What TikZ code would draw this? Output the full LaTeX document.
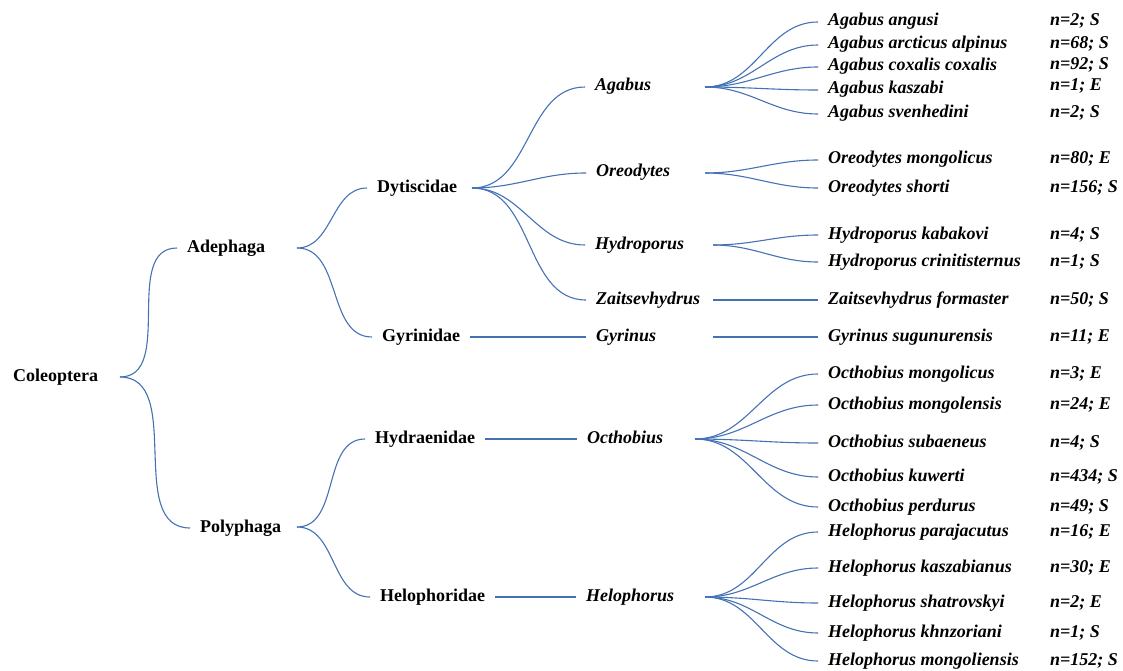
\documentclass[tikz,border=0pt]{standalone}
\usepackage{fontspec}
\setmainfont{Liberation Serif}
\definecolor{linkblue}{RGB}{68,114,180}
\tikzset{
  taxon/.style={anchor=west, inner xsep=10pt, inner ysep=0pt, text height=12pt, text depth=4pt,
    font=\fontsize{18}{20}\selectfont\bfseries},
  genus/.style={taxon, font=\fontsize{18}{20}\selectfont\bfseries\itshape},
  link/.style={draw=linkblue, line width=1.1pt},
}

\begin{document}
\begin{tikzpicture}[x=1pt,y=-1pt]
    \useasboundingbox (0,0) rectangle (1123,671);

    % Order and suborders
    \node[taxon] (coleo) at (3,377) {Coleoptera};
    \node[taxon] (adeph) at (177,248) {Adephaga};
    \node[taxon] (polyp) at (190,528) {Polyphaga};
    \coordinate (coleo-f) at (120,377);
    \draw[link] (coleo-f) to[out=0,in=180] (adeph.west);
    \draw[link] (coleo-f) to[out=0,in=180] (polyp.west);

    % Families
    \node[taxon] (dytis) at (367,188) {Dytiscidae};
    \node[taxon] (gyrid) at (372,337) {Gyrinidae};
    \node[taxon] (hydrd) at (365,439) {Hydraenidae};
    \node[taxon] (helod) at (370,597) {Helophoridae};
    \coordinate (adeph-f) at (297,248);
    \coordinate (polyp-f) at (297,527);
    \draw[link] (adeph-f) to[out=0,in=180] (dytis.west);
    \draw[link] (adeph-f) to[out=0,in=180] (gyrid.west);
    \draw[link] (polyp-f) to[out=0,in=180] (hydrd.west);
    \draw[link] (polyp-f) to[out=0,in=180] (helod.west);

    % Genera
    \node[genus] (agab) at (585,87) {Agabus};
    \node[genus] (oreo) at (586,173) {Oreodytes};
    \node[genus] (hydro) at (585,245) {Hydroporus};
    \node[genus] (zait) at (586,300) {Zaitsevhydrus};
    \node[genus] (gyri) at (586,337) {Gyrinus};
    \node[genus] (octh) at (577,439) {Octhobius};
    \node[genus] (helo) at (576,597) {Helophorus};
    \coordinate (dytis-f) at (472,188);
    \draw[link] (dytis-f) to[out=0,in=180] (agab.west);
    \draw[link] (dytis-f) to[out=0,in=180] (oreo.west);
    \draw[link] (dytis-f) to[out=0,in=180] (hydro.west);
    \draw[link] (dytis-f) to[out=0,in=180] (zait.west);
    \draw[link] (gyrid.east) -- (gyri.west);
    \draw[link] (hydrd.east) -- (octh.west);
    \draw[link] (helod.east) -- (helo.west);

    % Species of Dytiscidae and Gyrinidae
    \node[genus] (aang) at (818,22) {Agabus angusi};
    \node[genus] (aarc) at (818,45) {Agabus arcticus alpinus};
    \node[genus] (acox) at (818,67) {Agabus coxalis coxalis};
    \node[genus] (akas) at (818,90) {Agabus kaszabi};
    \node[genus] (asve) at (818,114) {Agabus svenhedini};
    \node[genus] (omon) at (818,160) {Oreodytes mongolicus};
    \node[genus] (osho) at (818,188) {Oreodytes shorti};
    \node[genus] (hkab) at (818,235) {Hydroporus kabakovi};
    \node[genus] (hcri) at (818,262) {Hydroporus crinitisternus};
    \node[genus] (zfor) at (818,300) {Zaitsevhydrus formaster};
    \node[genus] (gsug) at (818,337) {Gyrinus sugunurensis};
    \coordinate (agab-f) at (705,87);
    \coordinate (oreo-f) at (705,173);
    \coordinate (hydro-f) at (713,245);
    \coordinate (zait-f) at (713,300);
    \coordinate (gyri-f) at (713,337);
    \draw[link] (agab-f) to[out=0,in=180] (aang.west);
    \draw[link] (agab-f) to[out=0,in=180] (aarc.west);
    \draw[link] (agab-f) to[out=0,in=180] (acox.west);
    \draw[link] (agab-f) to[out=0,in=180] (akas.west);
    \draw[link] (agab-f) to[out=0,in=180] (asve.west);
    \draw[link] (oreo-f) to[out=0,in=180] (omon.west);
    \draw[link] (oreo-f) to[out=0,in=180] (osho.west);
    \draw[link] (hydro-f) to[out=0,in=180] (hkab.west);
    \draw[link] (hydro-f) to[out=0,in=180] (hcri.west);
    \draw[link] (zait-f) -- (zfor.west);
    \draw[link] (gyri-f) -- (gsug.west);

    % Species of Polyphaga
    \node[genus] (omgl) at (818,374) {Octhobius mongolicus};
    \node[genus] (omgs) at (818,405) {Octhobius mongolensis};
    \node[genus] (osub) at (818,443) {Octhobius subaeneus};
    \node[genus] (okuw) at (818,477) {Octhobius kuwerti};
    \node[genus] (oper) at (818,507) {Octhobius perdurus};
    \node[genus] (hpar) at (818,532) {Helophorus parajacutus};
    \node[genus] (hkas) at (818,568) {Helophorus kaszabianus};
    \node[genus] (hsha) at (818,603) {Helophorus shatrovskyi};
    \node[genus] (hkhn) at (818,633) {Helophorus khnzoriani};
    \node[genus] (hmon) at (818,661) {Helophorus mongoliensis};
    \coordinate (octh-f) at (695,439);
    \coordinate (helo-f) at (705,597);
    \draw[link] (octh-f) to[out=0,in=180] (omgl.west);
    \draw[link] (octh-f) to[out=0,in=180] (omgs.west);
    \draw[link] (octh-f) to[out=0,in=180] (osub.west);
    \draw[link] (octh-f) to[out=0,in=180] (okuw.west);
    \draw[link] (octh-f) to[out=0,in=180] (oper.west);
    \draw[link] (helo-f) to[out=0,in=180] (hpar.west);
    \draw[link] (helo-f) to[out=0,in=180] (hkas.west);
    \draw[link] (helo-f) to[out=0,in=180] (hsha.west);
    \draw[link] (helo-f) to[out=0,in=180] (hkhn.west);
    \draw[link] (helo-f) to[out=0,in=180] (hmon.west);

    % Sample sizes
    \node[genus] (n-aang) at (1040,22) {n=2; S};
    \node[genus] (n-aarc) at (1040,45) {n=68; S};
    \node[genus] (n-acox) at (1040,66) {n=92; S};
    \node[genus] (n-akas) at (1040,87) {n=1; E};
    \node[genus] (n-asve) at (1040,114) {n=2; S};
    \node[genus] (n-omon) at (1040,160) {n=80; E};
    \node[genus] (n-osho) at (1040,188) {n=156; S};
    \node[genus] (n-hkab) at (1040,235) {n=4; S};
    \node[genus] (n-hcri) at (1040,262) {n=1; S};
    \node[genus] (n-zfor) at (1040,300) {n=50; S};
    \node[genus] (n-gsug) at (1040,337) {n=11; E};
    \node[genus] (n-omgl) at (1040,374) {n=3; E};
    \node[genus] (n-omgs) at (1040,405) {n=24; E};
    \node[genus] (n-osub) at (1040,443) {n=4; S};
    \node[genus] (n-okuw) at (1040,477) {n=434; S};
    \node[genus] (n-oper) at (1040,507) {n=49; S};
    \node[genus] (n-hpar) at (1040,532) {n=16; E};
    \node[genus] (n-hkas) at (1040,568) {n=30; E};
    \node[genus] (n-hsha) at (1040,603) {n=2; E};
    \node[genus] (n-hkhn) at (1040,633) {n=1; S};
    \node[genus] (n-hmon) at (1040,661) {n=152; S};
\end{tikzpicture}
\end{document}
